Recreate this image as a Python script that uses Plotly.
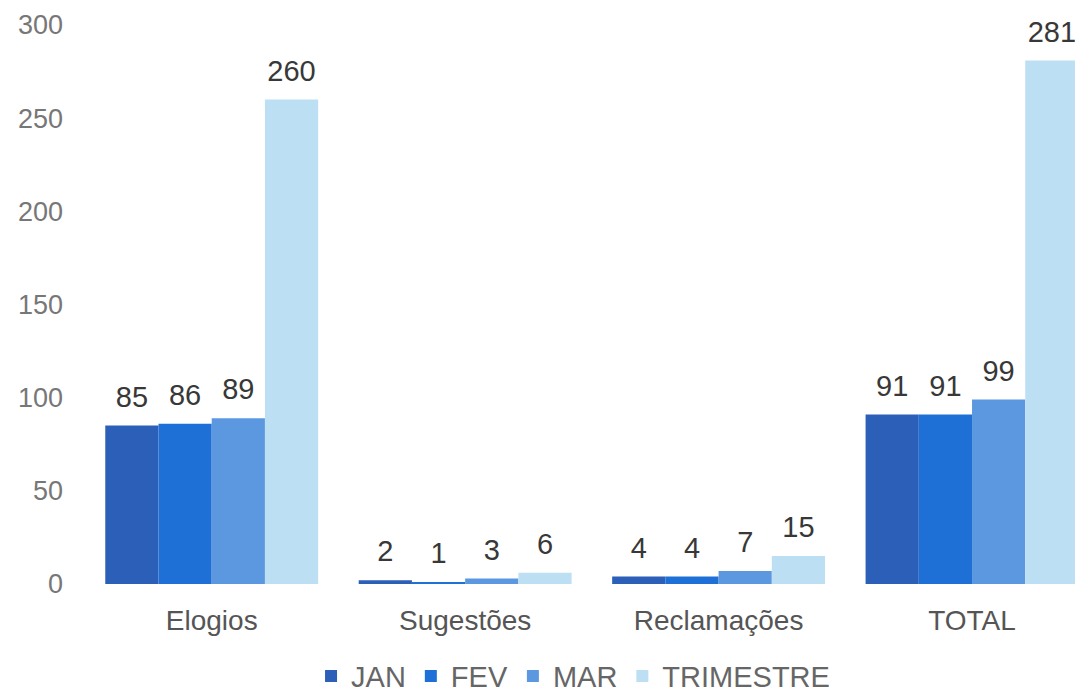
import plotly.graph_objects as go

categories = ["Elogios", "Sugestões", "Reclamações", "TOTAL"]
series_names = ["JAN", "FEV", "MAR", "TRIMESTRE"]
jan = [85, 2, 4, 91]
fev = [86, 1, 4, 91]
mar = [89, 3, 7, 99]
trimestre = [260, 6, 15, 281]
y_ticks = [0, 50, 100, 150, 200, 250, 300]

colors = ["#2c5fb8", "#1f70d6", "#5c98e0", "#bcdff3"]
values = [jan, fev, mar, trimestre]
FONT = "Liberation Sans"

fig = go.Figure()
for name, vals, col in zip(series_names, values, colors):
    fig.add_trace(go.Bar(
        name=name, x=categories, y=vals, marker_color=col, marker_line_width=0,
        offsetgroup=name,
    ))
for name, vals in zip(series_names, values):
    fig.add_trace(go.Scatter(
        x=categories, y=vals, mode="markers+text", offsetgroup=name,
        text=[str(v) for v in vals], textposition="top center",
        marker=dict(size=17, opacity=0), showlegend=False, hoverinfo="skip",
        cliponaxis=False,
        textfont=dict(size=29, color="#383838", family=FONT),
    ))

fig.update_layout(
    width=1083, height=693,
    margin=dict(l=77, r=10, t=17, b=117, autoexpand=False),
    paper_bgcolor="white", plot_bgcolor="white",
    barmode="group", bargap=0.16, bargroupgap=0,
    scattermode="group", scattergap=0.16,
    font=dict(family=FONT, color="#666666", size=28),
    showlegend=True,
    legend=dict(orientation="h", x=0.49, xanchor="center", y=-0.165, yanchor="middle",
                font=dict(size=29, color="#666666", family=FONT),
                traceorder="normal", itemwidth=30),
)
fig.update_xaxes(range=[-0.5, 3.43], showline=False, showgrid=False, ticks="",
                 ticklabelstandoff=17,
                 tickfont=dict(size=28, color="#555555", family=FONT))
fig.update_yaxes(range=[0, 300], tickvals=y_ticks, showgrid=False, zeroline=False,
                 showline=False, ticks="", ticklabelstandoff=21,
                 ticklabeloverflow="allow",
                 tickfont=dict(size=27, color="#777777", family=FONT))

fig.write_html("out.html")
